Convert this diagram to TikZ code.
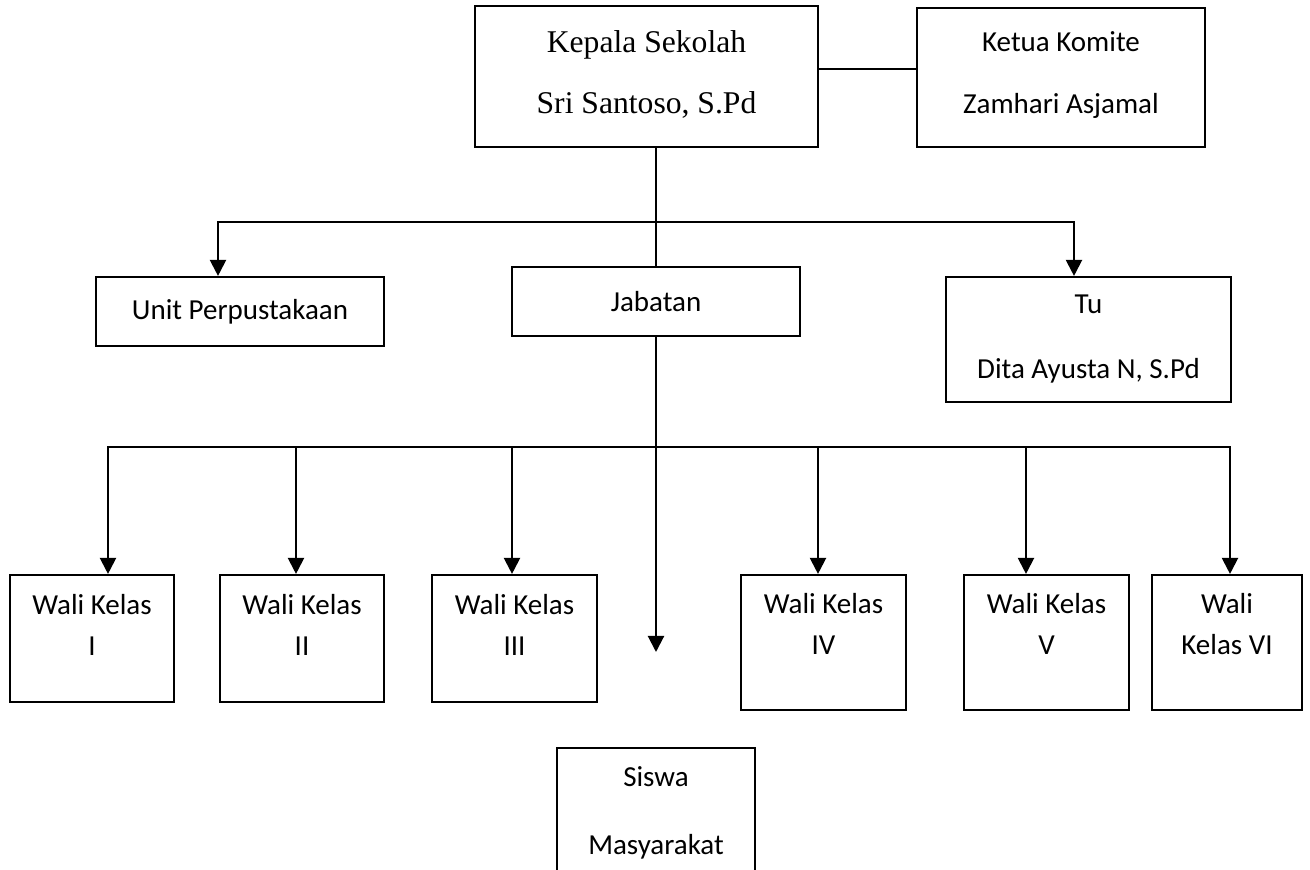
\documentclass[tikz,border=0pt]{standalone}
\usepackage{fontspec}
\setmainfont{Carlito}
\newfontfamily\timesfont{Liberation Serif}
\usetikzlibrary{arrows.meta}
\tikzstyle{box} = [rectangle, draw=black, line width=1.2pt, align=center, inner sep=0pt, font=\fontsize{16.5}{35}\selectfont]
\tikzstyle{headbox} = [box, minimum width=6.86cm, minimum height=2.82cm, font=\timesfont\fontsize{18}{35}\selectfont]
\tikzstyle{staffbox} = [box, minimum width=5.76cm, minimum height=1.38cm]
\tikzstyle{walibox} = [box, minimum width=3.3cm, minimum height=2.54cm, font=\fontsize{16.5}{23.3}\selectfont]
\tikzstyle{line} = [line width=1.2pt]
\tikzstyle{arrow} = [line width=1.2pt, -{Triangle[width=0.32cm,length=0.32cm]}]

\begin{document}
\begin{tikzpicture}
    \useasboundingbox (0,0) rectangle (26.2,17.4);

    \node (kepala) [headbox] at (12.93,15.87) {Kepala Sekolah\\Sri Santoso, S.Pd\\[-1.05cm]};
    \node (ketua) [box, minimum width=5.76cm, minimum height=2.78cm] at (21.22,15.85) {Ketua Komite\\Zamhari Asjamal\\[-1.03cm]};
    \node (jabatan) [staffbox] at (13.12,11.37) {Jabatan};
    \node (unit) [staffbox] at (4.80,11.17) {Unit Perpustakaan};
    \node (tu) [box, minimum width=5.70cm, minimum height=2.50cm, font=\fontsize{16.5}{37}\selectfont] at (21.77,10.61) {Tu\\Dita Ayusta N, S.Pd};

    \node (wali1) [walibox, minimum width=3.28cm] at (1.84,4.63) {Wali Kelas\\I\\[-0.26cm]};
    \node (wali2) [walibox, minimum width=3.28cm] at (6.04,4.63) {Wali Kelas\\II\\[-0.26cm]};
    \node (wali3) [walibox] at (10.29,4.63) {Wali Kelas\\III\\[-0.26cm]};
    \node (wali4) [walibox, minimum height=2.70cm] at (16.47,4.55) {Wali Kelas\\IV\\[-0.08cm]};
    \node (wali5) [walibox, minimum height=2.70cm] at (20.93,4.55) {Wali Kelas\\V\\[-0.08cm]};
    \node (wali6) [walibox, minimum width=3.0cm, minimum height=2.70cm] at (24.54,4.55) {Wali\\Kelas VI\\[-0.08cm]};

    \node (siswa) [box, minimum width=3.96cm, minimum height=2.60cm, font=\fontsize{16.5}{39}\selectfont] at (13.12,1.14) {Siswa\\Masyarakat};

    \coordinate (split) at (13.12,12.96);
    \coordinate (row) at (13.12,8.46);
    \coordinate (tip) at (13.12,4.36);

    \draw [line] ([yshift=0.15cm]kepala.east) -- ([yshift=0.15cm]kepala.east -| ketua.west);
    \draw [line] (jabatan.north |- kepala.south) -- (jabatan.north);
    \draw [arrow] (split) -| ([xshift=-0.44cm]unit.north);
    \draw [arrow] (split) -| ([xshift=-0.29cm]tu.north);
    \draw [arrow] (jabatan.south) -- (tip);
    \draw [arrow] (row) -| ([xshift=0.32cm]wali1.north);
    \draw [arrow] (row) -| ([xshift=-0.12cm]wali2.north);
    \draw [arrow] (row) -| ([xshift=-0.05cm]wali3.north);
    \draw [arrow] (row) -| ([xshift=-0.11cm]wali4.north);
    \draw [arrow] (row) -| ([xshift=-0.41cm]wali5.north);
    \draw [arrow] (row) -| ([xshift=0.06cm]wali6.north);
\end{tikzpicture}
\end{document}
